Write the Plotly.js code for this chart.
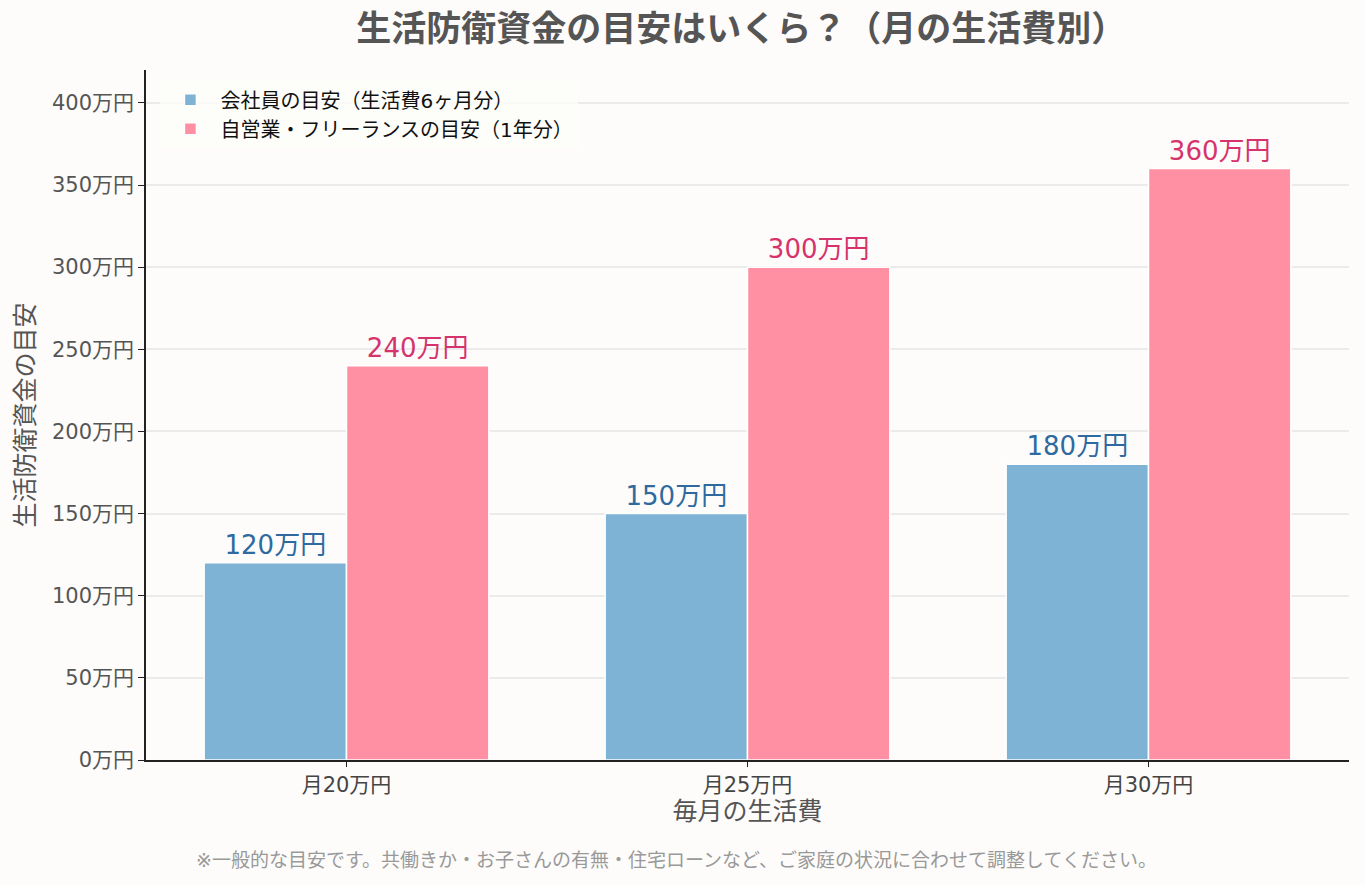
<!DOCTYPE html>
<html><head><meta charset="utf-8">
<script src="https://cdn.plot.ly/plotly-3.0.1.min.js"></script>
<style>html,body{margin:0;padding:0;background:#fdfcfa;}#chart{width:1365px;height:885px;}</style>
</head><body><div id="chart"></div>
<script>
const categories = ["月20万円", "月25万円", "月30万円"];
const employeeValues = [120, 150, 180];
const freelanceValues = [240, 300, 360];
const seriesNames = ["会社員の目安（生活費6ヶ月分）", "自営業・フリーランスの目安（1年分）"];
const yTickVals = [0, 50, 100, 150, 200, 250, 300, 350, 400];
const yTickText = yTickVals.map(v => v + "万円");

const font = "'DejaVu Sans', 'Noto Sans CJK JP', sans-serif";
const traces = [
  {type:"bar", name:seriesNames[0], x:categories, y:employeeValues,
   marker:{color:"#7fb3d5", line:{color:"#ffffff", width:1.5}},
   text:employeeValues.map(v=>v+"万円"), textposition:"outside", cliponaxis:false,
   textfont:{color:"#2e6aa0", size:26, family:font}},
  {type:"bar", name:seriesNames[1], x:categories, y:freelanceValues,
   marker:{color:"#ff8fa3", line:{color:"#ffffff", width:1.5}},
   text:freelanceValues.map(v=>v+"万円"), textposition:"outside", cliponaxis:false,
   textfont:{color:"#d6336c", size:26, family:font}}
];
const layout = {
  width:1365, height:885,
  paper_bgcolor:"#fdfcfa", plot_bgcolor:"#fdfcfa",
  font:{family:font, color:"#555555"},
  margin:{l:146, r:16, t:70, b:125},
  barmode:"group", bargap:0.29, bargroupgap:0.0,
  title:{text:"生活防衛資金の目安はいくら？（月の生活費別）", x:0.543, xanchor:"center", y:0.968, yanchor:"middle",
         font:{size:35, color:"#555555", family:font, weight:"bold"}},
  xaxis:{range:[-0.5, 2.5], showline:true, linecolor:"#222", linewidth:1.5, ticks:"outside", ticklen:5, tickcolor:"#222",
         tickfont:{size:21, color:"#444"},
         title:{text:"毎月の生活費", font:{size:25, color:"#555"}, standoff:6}},
  yaxis:{range:[0, 420], tickvals:yTickVals, ticktext:yTickText, showline:true, linecolor:"#222", linewidth:1.5,
         ticks:"outside", ticklen:6, tickcolor:"#222", tickfont:{size:21, color:"#555"},
         showgrid:true, gridcolor:"#ebebeb", gridwidth:1.5, zeroline:false,
         title:{text:"生活防衛資金の目安", font:{size:25, color:"#555"}, standoff:10}},
  legend:{x:0.012, y:0.985, xanchor:"left", yanchor:"top", bgcolor:"rgba(253,252,250,0.8)",
          font:{size:20, color:"#111"}, traceorder:"normal", tracegroupgap:6, itemwidth:50},
  annotations:[{text:"※一般的な目安です。共働きか・お子さんの有無・住宅ローンなど、ご家庭の状況に合わせて調整してください。",
    xref:"paper", yref:"paper", x:0.441, xanchor:"center", y:-0.145, yanchor:"middle", showarrow:false,
    font:{size:19, color:"#999999"}}]
};
Plotly.newPlot("chart", traces, layout, {displayModeBar:false});
</script></body></html>
